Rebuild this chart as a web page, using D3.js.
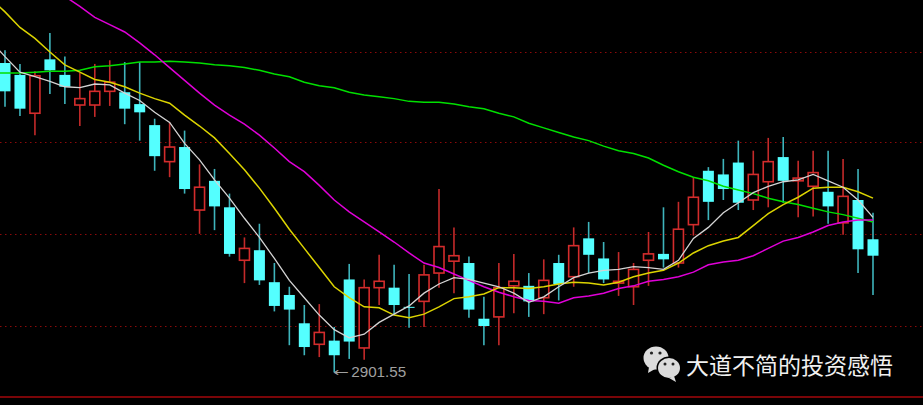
<!DOCTYPE html>
<html>
<head>
<meta charset="utf-8">
<script src="https://cdn.jsdelivr.net/npm/d3@7"></script>
<style>
  html, body { margin: 0; padding: 0; background: #000; overflow: hidden; }
  svg { display: block; }
</style>
</head>
<body>
<div id="chart"></div>
<script>
// daily candles
const opens = [3240,3227,3185,3244,3227,3194,3194,3209,3208,3195,3172,3132,3148,3079,3111,3082,3024,3035,3000,2986,2955,2932,2936,3003,2928,2994,2994,2973,2979,3010,3023,3021,2960,2962,2996,2996,2983,3021,3006,3048,3026,2999,2995,3024,3031,3021,3063,3122,3118,3131,3090,3110,3137,3111,3105,3099,3065,3090,3047];
const closes = [3209,3190,3226,3232,3214,3201,3209,3219,3190,3186,3138,3148,3102,3104,3083,3031,3037,3002,2974,2970,2929,2945,2920,2935,2994,3001,2975,2972,3008,3039,3029,2970,2952,2994,3001,2979,3002,2998,3040,3030,3003,3001,3014,3031,3025,3058,3093,3088,3102,3087,3118,3132,3111,3114,3120,3083,3094,3036,3029];
const highs = [3254,3239,3231,3273,3247,3229,3239,3243,3241,3241,3179,3175,3166,3129,3124,3097,3049,3064,3021,2995,2975,2976,2951,3020,3003,3030,3019,3009,3019,3102,3060,3028,2984,3021,3031,3010,3025,3030,3060,3066,3044,3033,3021,3055,3082,3088,3115,3126,3135,3155,3144,3158,3159,3133,3144,3144,3135,3124,3076];
const lows = [3192,3182,3161,3206,3195,3171,3181,3193,3173,3155,3122,3115,3097,3053,3057,3028,2999,2997,2968,2931,2920,2918,2901.55,2916,2915,2975,2965,2950,2951,2994,2988,2961,2931,2931,2966,2962,2965,2980,2995,3010,2999,2985,2975,2996,3016,3016,3051,3068,3090,3079,3079,3082,3087,3071,3072,3064,3052,3010,2986];

// moving averages; ma5, ma10 and ma60 start one day before the first candle
const ma5 = [3265,3247,3230,3225,3220,3214,3213,3217,3216,3207,3199,3186,3175,3152,3134,3112,3092,3070,3049,3026,3002,2983,2964,2948,2939,2943,2956,2965,2974,2988,2998,3005,3003,2999,2995,2988,2978,2984,2995,3005,3010,3013,3014,3017,3016,3014,3024,3048,3060,3076,3087,3098,3105,3110,3112,3118,3111,3104,3090,3071];
const ma10 = [3311,3296,3279,3267,3252,3238,3230,3222,3219,3214,3207,3201,3196,3183,3171,3158,3141,3123,3103,3081,3058,3037,3016,2995,2983,2973,2972,2964,2961,2965,2973,2982,2984,2987,2994,2994,2993,2995,2998,3000,2999,2997,3000,3006,3010,3013,3021,3032,3040,3045,3049,3062,3075,3085,3093,3103,3104,3104,3099,3092];
const ma60 = [3229,3229,3229,3230,3231,3231,3232,3236,3237,3239,3241,3241,3242,3241,3240,3238,3237,3235,3232,3228,3225,3219,3215,3213,3208,3205,3203,3201,3198,3197,3197,3195,3192,3190,3185,3181,3174,3169,3164,3159,3155,3149,3144,3141,3136,3128,3121,3115,3111,3105,3101,3097,3092,3088,3085,3081,3077,3074,3070,3066];
// ma20 comes in from above the top edge, first value is day 3
const ma20 = [3327,3313,3302,3290,3282,3274,3262,3249,3235,3221,3207,3194,3183,3173,3161,3147,3132,3121,3106,3090,3077,3066,3055,3044,3032,3021,3016,3009,3002,2995,2989,2984,2980,2979,2977,2983,2985,2988,2993,2996,3001,3003,3006,3011,3019,3022,3024,3029,3037,3045,3049,3055,3062,3066,3068,3068];

const gridPrices = [3252,3153,3053,2952];
const lowIndex = 22;
const lowArrow = "←";
const lowLabel = "2901.55";
const watermark = "大道不简的投资感悟";

const width = 923, height = 405;

const svg = d3.select("#chart")
    .append("svg")
    .attr("width", width)
    .attr("height", height)
    .style("background", "#000");

// day 0 sits at x=5, day 58 at x=873
const x = d3.scaleLinear().domain([0, 58]).range([5, 873]);
const y = d3.scaleLinear().domain([3309, 3309 - height * 1.095]).range([0, height]);

// grid
svg.append("g").selectAll("line")
    .data(gridPrices)
    .join("line")
    .attr("x1", 0)
    .attr("x2", width)
    .attr("y1", d => Math.round(y(d)) + 0.5)
    .attr("y2", d => Math.round(y(d)) + 0.5)
    .attr("stroke", "#8c0a0a")
    .attr("stroke-width", 1)
    .attr("stroke-dasharray", "1.5 3.5");

// bottom frame line
svg.append("line")
    .attr("x1", 0)
    .attr("x2", width)
    .attr("y1", 397)
    .attr("y2", 397)
    .attr("stroke", "#7a0508")
    .attr("stroke-width", 2);

const days = d3.range(opens.length);
const isUp = i => closes[i] > opens[i];

// wicks
svg.append("g").selectAll("line")
    .data(days)
    .join("line")
    .attr("x1", i => x(i))
    .attr("x2", i => x(i))
    .attr("y1", i => y(highs[i]))
    .attr("y2", i => y(lows[i]))
    .attr("stroke", i => isUp(i) ? "#c42a2a" : "#3eb4bc")
    .attr("stroke-width", 1.6);

// bodies: hollow red up, solid cyan down
svg.append("g").selectAll("rect")
    .data(days)
    .join("rect")
    .attr("x", i => x(i) - (isUp(i) ? 5 : 5.5))
    .attr("width", i => isUp(i) ? 10 : 11)
    .attr("y", i => y(Math.max(opens[i], closes[i])))
    .attr("height", i => Math.max(1, Math.abs(y(opens[i]) - y(closes[i]))))
    .attr("fill", i => isUp(i) ? "#000" : "#54ffff")
    .attr("stroke", i => isUp(i) ? "#d42c2c" : "none")
    .attr("stroke-width", 1.6);

// moving average lines
const line = d3.line()
    .x(d => x(d.day))
    .y(d => y(d.value));

function drawMa(values, firstDay, color, w) {
    const points = values.map((v, i) => ({ day: firstDay + i, value: v }));
    svg.append("path")
        .attr("d", line(points))
        .attr("fill", "none")
        .attr("stroke", color)
        .attr("stroke-width", w);
}

drawMa(ma60, -1, "#00e000", 1.5);
drawMa(ma20, 3, "#e000d8", 1.5);
drawMa(ma10, -1, "#dcd400", 1.5);
drawMa(ma5, -1, "#d4d4d4", 1.3);

// low marker
svg.append("text")
    .attr("x", x(lowIndex) - 1)
    .attr("y", y(lows[lowIndex]) + 4)
    .attr("fill", "#a0a0a0")
    .attr("font-family", "'DejaVu Sans', sans-serif")
    .attr("font-size", 12)
    .attr("textLength", 16)
    .attr("lengthAdjust", "spacingAndGlyphs")
    .text(lowArrow);

// the original digits are tall and narrow, so squeeze them
svg.append("text")
    .attr("x", x(lowIndex) + 17)
    .attr("y", y(lows[lowIndex]) + 5)
    .attr("fill", "#a0a0a0")
    .attr("font-family", "'Liberation Sans', sans-serif")
    .attr("font-size", 15)
    .attr("textLength", 55)
    .attr("lengthAdjust", "spacingAndGlyphs")
    .text(lowLabel);

// wechat style badge, bottom right
const badge = svg.append("g").attr("transform", "translate(656,358)");
badge.append("path")
    .attr("d", "M-7,9 L-8,15 L-1,11 Z")
    .attr("fill", "#dcdcdc");
badge.append("ellipse")
    .attr("rx", 12.5).attr("ry", 11.5)
    .attr("fill", "#dcdcdc");
badge.append("circle").attr("cx", -4.5).attr("cy", -5).attr("r", 1.6).attr("fill", "#222");
badge.append("circle").attr("cx", 4).attr("cy", -5).attr("r", 1.6).attr("fill", "#222");
badge.append("ellipse")
    .attr("cx", 13).attr("cy", 10)
    .attr("rx", 12.5).attr("ry", 11.5)
    .attr("fill", "#000");
badge.append("path")
    .attr("d", "M18,18 L20,24 L13,20 Z")
    .attr("fill", "#dcdcdc");
badge.append("ellipse")
    .attr("cx", 13).attr("cy", 10)
    .attr("rx", 11).attr("ry", 10)
    .attr("fill", "#dcdcdc");
badge.append("circle").attr("cx", 9).attr("cy", 6).attr("r", 1.5).attr("fill", "#222");
badge.append("circle").attr("cx", 17).attr("cy", 6).attr("r", 1.5).attr("fill", "#222");

svg.append("text")
    .attr("x", 686)
    .attr("y", 374)
    .attr("fill", "#f0f0f0")
    .attr("font-family", "'Noto Sans CJK SC', sans-serif")
    .attr("font-size", 23)
    .text(watermark);
</script>
</body>
</html>
